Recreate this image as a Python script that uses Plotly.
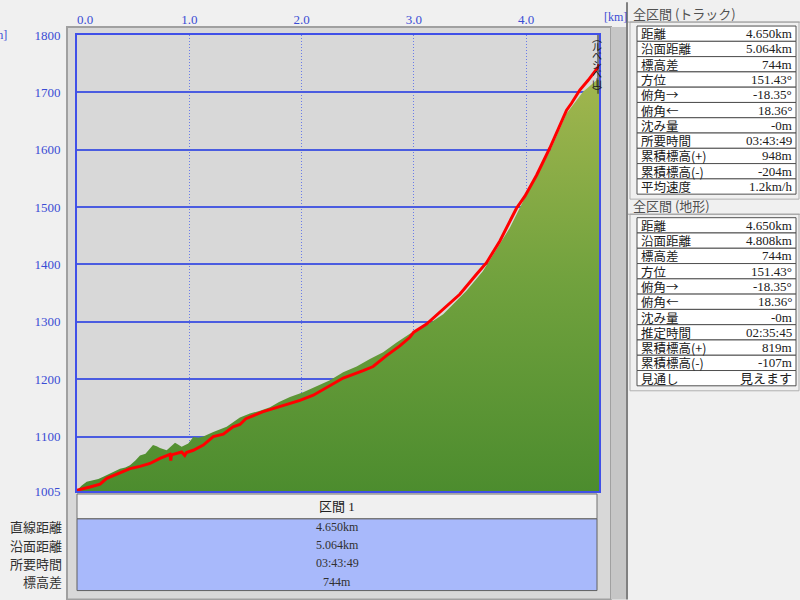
import plotly.graph_objects as go

# ---------------- data ----------------
terrain_km = [0.0, 0.04, 0.086, 0.145, 0.19, 0.234, 0.294, 0.34, 0.383, 0.43, 0.472, 0.52, 0.561, 0.61,
              0.65, 0.677, 0.71, 0.739, 0.799, 0.84, 0.873, 0.90, 0.932, 0.991, 1.036, 1.08, 1.125,
              1.214, 1.333, 1.451, 1.54, 1.63, 1.719, 1.80, 1.897, 2.015, 2.149, 2.253, 2.371, 2.491,
              2.609, 2.727, 2.847, 2.965, 3.114, 3.262, 3.47, 3.615, 3.856, 3.974, 4.212, 4.361,
              4.508, 4.583, 4.628, 4.65]
terrain_elev = [1006, 1014, 1021, 1024, 1026, 1030, 1036, 1040, 1044, 1046, 1050, 1058, 1067, 1070,
                1079, 1085, 1083, 1080, 1076, 1084, 1089, 1086, 1082, 1088, 1099, 1098, 1100,
                1108, 1117, 1133, 1140, 1145, 1151, 1160, 1169, 1177, 1189, 1198, 1212, 1222,
                1235, 1247, 1264, 1279, 1294, 1313, 1354, 1388, 1464, 1510, 1597, 1663,
                1701, 1713, 1721, 1722]

track_km = [0.0, 0.011, 0.116, 0.205, 0.265, 0.383, 0.472, 0.561, 0.65, 0.739, 0.828, 0.835, 0.842,
            0.932, 0.96, 0.975, 1.036, 1.125, 1.214, 1.303, 1.39, 1.451, 1.504, 1.652, 1.83, 1.986,
            2.105, 2.224, 2.371, 2.549, 2.638, 2.757, 2.876, 2.965, 3.0, 3.114, 3.262, 3.41, 3.559,
            3.648, 3.767, 3.856, 3.915, 3.99, 4.095, 4.212, 4.287, 4.361, 4.405, 4.479, 4.553,
            4.613, 4.642, 4.65]
track_elev = [1006, 1007, 1012, 1017, 1027, 1036, 1044, 1048, 1053, 1062, 1069, 1058, 1068,
              1073, 1067, 1072, 1076, 1085, 1100, 1104, 1117, 1121, 1131, 1143, 1154, 1163,
              1172, 1186, 1202, 1215, 1222, 1241, 1258, 1273, 1282, 1296, 1322, 1348, 1383,
              1403, 1441, 1475, 1498, 1519, 1556, 1603, 1637, 1669, 1681, 1704, 1721,
              1736, 1744, 1749]

y_ticks = [1005, 1100, 1200, 1300, 1400, 1500, 1600, 1700, 1800]
x_ticks = [0, 1, 2, 3, 4]
x_ticktext = ["\u00a0\u00a0\u00a0\u00a0\u00a00.0", "1.0", "2.0", "3.0", "4.0"]
summit_name = ["︵", "ル", "ベ", "シ", "ベ", "山", "︶"]

section_header = "区間 1"
section_labels = ["直線距離", "沿面距離", "所要時間", "標高差"]
section_values = ["4.650km", "5.064km", "03:43:49", "744m"]

track_title = "全区間 (トラック)"
track_labels = ["距離", "沿面距離", "標高差", "方位", "俯角→", "俯角←", "沈み量", "所要時間",
                "累積標高(+)", "累積標高(-)", "平均速度"]
track_values = ["4.650km", "5.064km", "744m", "151.43°", "-18.35°", "18.36°", "-0m", "03:43:49",
                "948m", "-204m", "1.2km/h"]
terrain_title = "全区間 (地形)"
terrain_labels = ["距離", "沿面距離", "標高差", "方位", "俯角→", "俯角←", "沈み量", "推定時間",
                  "累積標高(+)", "累積標高(-)", "見通し"]
terrain_values = ["4.650km", "4.808km", "744m", "151.43°", "-18.35°", "18.36°", "-0m", "02:35:45",
                  "819m", "-107m", "見えます"]

# ---------------- layout helpers ----------------
W, H = 800, 600
L, R, T, B = 77, 599, 33, 491


def fx(px):
    return (px - L) / (R - L)


def fy(py):
    return (B - py) / (B - T)


FONT = "Liberation Serif, Noto Sans CJK JP, serif"
JFONT = "Noto Sans CJK JP, sans-serif"
BLUE_TXT = "#3a4cd4"

fig = go.Figure()

fig.add_trace(go.Scatter(
    x=terrain_km, y=terrain_elev, mode="lines", fill="tozeroy",
    line=dict(width=0, color="#5a9a3a"),
    fillgradient=dict(type="vertical",
                      colorscale=[[0, "#4c8c2e"], [0.5, "#72a23e"], [1, "#a6b850"]],
                      start=1005, stop=1760),
    hoverinfo="skip", showlegend=False))

fig.add_trace(go.Scatter(
    x=track_km, y=track_elev, mode="lines",
    line=dict(width=3, color="#ff0000"),
    showlegend=False))

shapes = []
annotations = []

# chart frame
shapes.append(dict(type="rect", xref="paper", yref="paper", x0=fx(67), x1=fx(611), y0=fy(600), y1=fy(25),
                   fillcolor="#d8d8d8", line=dict(color="#a0a0a0", width=2), layer="below"))
shapes.append(dict(type="rect", xref="paper", yref="paper", x0=fx(611), x1=fx(626), y0=fy(600), y1=fy(25),
                   fillcolor="#c6c6c6", line=dict(width=0), layer="below"))
shapes.append(dict(type="line", xref="paper", yref="paper", x0=fx(627), x1=fx(627), y0=fy(600), y1=fy(0),
                   line=dict(color="#808080", width=2)))

# summit marker line
shapes.append(dict(type="line", xref="paper", yref="paper", x0=fx(598), x1=fx(598), y0=fy(92), y1=fy(33),
                   line=dict(color="#202020", width=1)))

# bottom table
shapes.append(dict(type="rect", xref="paper", yref="paper", x0=fx(77), x1=fx(597), y0=fy(519), y1=fy(494),
                   fillcolor="#f0f0f0", line=dict(color="#707070", width=1)))
shapes.append(dict(type="rect", xref="paper", yref="paper", x0=fx(77), x1=fx(597), y0=fy(591), y1=fy(519),
                   fillcolor="#a8b9fb", line=dict(color="#606060", width=1)))
annotations.append(dict(text=section_header, xref="paper", yref="paper", x=fx(337), y=fy(507),
                        xanchor="center", yanchor="middle", showarrow=False,
                        font=dict(family=FONT, size=13, color="#202020")))
for i, (lab, val) in enumerate(zip(section_labels, section_values)):
    yc = 527 + 18.3 * i
    annotations.append(dict(text=lab, xref="paper", yref="paper", x=fx(64), y=fy(yc),
                            xanchor="right", yanchor="middle", showarrow=False,
                            font=dict(family=JFONT, size=13, color="#303030")))
    annotations.append(dict(text=val, xref="paper", yref="paper", x=fx(337), y=fy(yc),
                            xanchor="center", yanchor="middle", showarrow=False,
                            font=dict(family=FONT, size=12, color="#303030")))

# right panels
def panel(title, labels, values, title_y, row0):
    rh = 15.35
    annotations.append(dict(text=title, xref="paper", yref="paper", x=fx(631), y=fy(title_y),
                            xanchor="left", yanchor="middle", showarrow=False,
                            font=dict(family=JFONT, size=13, color="#505050")))
    shapes.append(dict(type="line", xref="paper", yref="paper", x0=fx(628), x1=fx(800),
                       y0=fy(title_y + 9), y1=fy(title_y + 9), line=dict(color="#a0a0a0", width=1)))
    top = row0
    shapes.append(dict(type="rect", xref="paper", yref="paper", x0=fx(630), x1=fx(799),
                       y0=fy(top + rh * len(labels) + 5), y1=fy(title_y + 9),
                       fillcolor="#f0f0f0", line=dict(color="#b0b0b0", width=1), layer="below"))
    for i, (lab, val) in enumerate(zip(labels, values)):
        y0 = top + rh * i
        shapes.append(dict(type="rect", xref="paper", yref="paper", x0=fx(637), x1=fx(796),
                           y0=fy(y0 + rh), y1=fy(y0), fillcolor="#ffffff",
                           line=dict(color="#505050", width=1)))
        annotations.append(dict(text=lab, xref="paper", yref="paper", x=fx(639), y=fy(y0 + rh / 2),
                                xanchor="left", yanchor="middle", showarrow=False,
                                font=dict(family=JFONT, size=12.5, color="#202020")))
        annotations.append(dict(text=val, xref="paper", yref="paper", x=fx(794), y=fy(y0 + rh / 2),
                                xanchor="right", yanchor="middle", showarrow=False,
                                font=dict(family=FONT, size=13, color="#202020")))


panel(track_title, track_labels, track_values, 11, 24)
panel(terrain_title, terrain_labels, terrain_values, 204, 216.5)

# axis unit labels
annotations.append(dict(text="[km]", xref="paper", yref="paper", x=fx(602), y=fy(15),
                        xanchor="left", yanchor="middle", showarrow=False,
                        font=dict(family=FONT, size=12, color=BLUE_TXT)))
annotations.append(dict(text="[m]", xref="paper", yref="paper", x=fx(9), y=fy(33),
                        xanchor="right", yanchor="middle", showarrow=False,
                        font=dict(family=FONT, size=12, color=BLUE_TXT)))

# summit label (vertical)
for i, ch in enumerate(summit_name):
    annotations.append(dict(text=ch, xref="paper", yref="paper", x=fx(597), y=fy(36 + 9 * i),
                            xanchor="center", yanchor="middle", showarrow=False,
                            font=dict(family=JFONT, size=10, color="#202020")))

fig.update_layout(
    width=W, height=H,
    margin=dict(l=L, r=W - R, t=T, b=H - B, pad=0),
    paper_bgcolor="#f0f0f0",
    plot_bgcolor="#dcdcdc",
    shapes=shapes,
    annotations=annotations,
    showlegend=False,
)
fig.update_xaxes(range=[0, 4.65], side="top", tickvals=x_ticks, ticktext=x_ticktext,
                 showgrid=True, gridcolor="#6a7ce8", griddash="1px,2px", gridwidth=1,
                 showline=True, mirror=True, linecolor="#4050e8", linewidth=2,
                 ticks="", zeroline=False, ticklabelstandoff=4,
                 tickfont=dict(family=FONT, size=13, color=BLUE_TXT))
fig.update_yaxes(range=[1005, 1800], tickvals=y_ticks,
                 showgrid=True, gridcolor="#4a5ce0", gridwidth=2,
                 showline=True, mirror=True, linecolor="#4050e8", linewidth=2,
                 ticks="", zeroline=False, ticklabelstandoff=12,
                 tickfont=dict(family=FONT, size=13, color=BLUE_TXT))

fig.write_html("out.html", config={"displayModeBar": False},
               post_script="document.body.style.margin='0';document.body.style.padding='0';")
